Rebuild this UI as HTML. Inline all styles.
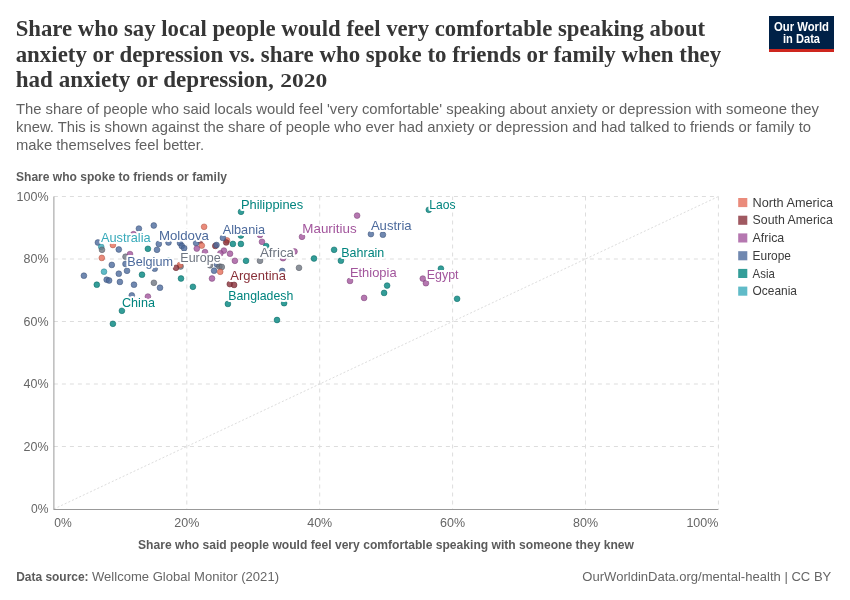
<!DOCTYPE html>
<html lang="en"><head><meta charset="utf-8"><title>Share who say local people would feel very comfortable speaking about anxiety or depression</title>
<style>
html,body{margin:0;padding:0;background:#fff;}
body{width:850px;height:600px;overflow:hidden;}
svg{display:block;font-family:"Liberation Sans",sans-serif;}
.title{font-family:"Liberation Serif",serif;font-weight:bold;font-size:24px;fill:#363636;}
.sub{font-size:15px;fill:#616161;}
.tick{font-size:12.4px;fill:#666;}
.axl{font-size:13px;font-weight:bold;fill:#5b5b5b;}
.leg{font-size:12.2px;fill:#3b3b3b;}
.foot{font-size:12.9px;fill:#666;}
.lab{font-size:13.5px;paint-order:stroke;stroke:#fff;stroke-width:4px;stroke-linejoin:round;}
.grid{stroke:#ddd;stroke-dasharray:4,4;stroke-width:1;fill:none;}
</style></head><body>
<svg width="850" height="600" viewBox="0 0 850 600">
<rect width="850" height="600" fill="#fff"/>
<text class="title" x="15.7" y="36.2" textLength="689.5" lengthAdjust="spacingAndGlyphs">Share who say local people would feel very comfortable speaking about</text>
<text class="title" x="15.7" y="61.7" textLength="705.5" lengthAdjust="spacingAndGlyphs">anxiety or depression vs. share who spoke to friends or family when they</text>
<text class="title" x="15.7" y="87.3"><tspan textLength="258" lengthAdjust="spacingAndGlyphs">had anxiety or depression,</tspan><tspan x="280.2" font-size="18.5" textLength="47" lengthAdjust="spacingAndGlyphs">2020</tspan></text>
<text class="sub" x="16" y="114" textLength="803" lengthAdjust="spacingAndGlyphs">The share of people who said locals would feel 'very comfortable' speaking about anxiety or depression with someone they</text>
<text class="sub" x="16" y="131.9" textLength="795" lengthAdjust="spacingAndGlyphs">knew. This is shown against the share of people who ever had anxiety or depression and had talked to friends or family to</text>
<text class="sub" x="16" y="149.7" textLength="188" lengthAdjust="spacingAndGlyphs">make themselves feel better.</text>
<g><rect x="769" y="16" width="65" height="36" fill="#002147"/><rect x="769" y="49" width="65" height="3" fill="#ce261e"/><text x="801.5" y="30.6" text-anchor="middle" font-size="12.8" font-weight="bold" fill="#fff" textLength="55" lengthAdjust="spacingAndGlyphs">Our World</text><text x="801.5" y="42.6" text-anchor="middle" font-size="12.8" font-weight="bold" fill="#fff" textLength="37" lengthAdjust="spacingAndGlyphs">in Data</text></g>
<text class="axl" x="16" y="180.7" textLength="211" lengthAdjust="spacingAndGlyphs">Share who spoke to friends or family</text>
<line class="grid" x1="186.8" y1="196.5" x2="186.8" y2="509.0"/>
<line class="grid" x1="319.7" y1="196.5" x2="319.7" y2="509.0"/>
<line class="grid" x1="452.6" y1="196.5" x2="452.6" y2="509.0"/>
<line class="grid" x1="585.5" y1="196.5" x2="585.5" y2="509.0"/>
<line class="grid" x1="718.4" y1="196.5" x2="718.4" y2="509.0"/>
<line class="grid" x1="53.9" y1="196.5" x2="718.4" y2="196.5"/>
<line class="grid" x1="53.9" y1="259.0" x2="718.4" y2="259.0"/>
<line class="grid" x1="53.9" y1="321.5" x2="718.4" y2="321.5"/>
<line class="grid" x1="53.9" y1="384.0" x2="718.4" y2="384.0"/>
<line class="grid" x1="53.9" y1="446.5" x2="718.4" y2="446.5"/>
<line x1="53.9" y1="509.0" x2="718.4" y2="196.5" stroke="#ddd" stroke-width="1" stroke-dasharray="2,2"/>
<line x1="53.9" y1="196.5" x2="53.9" y2="509.0" stroke="#999" stroke-width="1"/>
<line x1="53.4" y1="509.5" x2="718.4" y2="509.5" stroke="#999" stroke-width="1"/>
<text class="tick" x="16.6" y="200.9" textLength="32" lengthAdjust="spacingAndGlyphs">100%</text>
<text class="tick" x="23.6" y="263.4" textLength="25" lengthAdjust="spacingAndGlyphs">80%</text>
<text class="tick" x="23.6" y="325.9" textLength="25" lengthAdjust="spacingAndGlyphs">60%</text>
<text class="tick" x="23.6" y="388.4" textLength="25" lengthAdjust="spacingAndGlyphs">40%</text>
<text class="tick" x="23.6" y="450.9" textLength="25" lengthAdjust="spacingAndGlyphs">20%</text>
<text class="tick" x="31.1" y="513.4" textLength="17.5" lengthAdjust="spacingAndGlyphs">0%</text>
<text class="tick" x="54.2" y="527.4" textLength="17.5" lengthAdjust="spacingAndGlyphs">0%</text>
<text class="tick" x="174.3" y="527.4" textLength="25" lengthAdjust="spacingAndGlyphs">20%</text>
<text class="tick" x="307.2" y="527.4" textLength="25" lengthAdjust="spacingAndGlyphs">40%</text>
<text class="tick" x="440.1" y="527.4" textLength="25" lengthAdjust="spacingAndGlyphs">60%</text>
<text class="tick" x="573.0" y="527.4" textLength="25" lengthAdjust="spacingAndGlyphs">80%</text>
<text class="tick" x="686.4" y="527.4" textLength="32" lengthAdjust="spacingAndGlyphs">100%</text>
<text class="axl" x="386" y="548.5" text-anchor="middle" textLength="496" lengthAdjust="spacingAndGlyphs">Share who said people would feel very comfortable speaking with someone they knew</text>
<g stroke-width="0.5" fill-opacity="0.8">
<circle cx="153.8" cy="225.5" r="2.9" fill="#4C6A9C" stroke="#394f75"/>
<circle cx="138.9" cy="228.6" r="2.9" fill="#4C6A9C" stroke="#394f75"/>
<circle cx="133.5" cy="234.2" r="2.9" fill="#A2559C" stroke="#793f75"/>
<circle cx="97.9" cy="242.5" r="2.9" fill="#4C6A9C" stroke="#394f75"/>
<circle cx="101.2" cy="246.8" r="2.9" fill="#38AABA" stroke="#2a7f8b"/>
<circle cx="102" cy="249.8" r="2.9" fill="#6e7581" stroke="#525760"/>
<circle cx="112.9" cy="245" r="2.9" fill="#E56E5A" stroke="#ab5243"/>
<circle cx="118.8" cy="249.5" r="2.9" fill="#4C6A9C" stroke="#394f75"/>
<circle cx="101.8" cy="257.9" r="2.9" fill="#E56E5A" stroke="#ab5243"/>
<circle cx="125.5" cy="256.7" r="2.9" fill="#6e7581" stroke="#525760"/>
<circle cx="130" cy="254.1" r="2.9" fill="#A2559C" stroke="#793f75"/>
<circle cx="147.9" cy="248.8" r="2.9" fill="#00847E" stroke="#00635e"/>
<circle cx="158.8" cy="243.9" r="2.9" fill="#4C6A9C" stroke="#394f75"/>
<circle cx="157" cy="249.8" r="2.9" fill="#4C6A9C" stroke="#394f75"/>
<circle cx="168.5" cy="242.5" r="2.9" fill="#4C6A9C" stroke="#394f75"/>
<circle cx="111.8" cy="264.9" r="2.9" fill="#4C6A9C" stroke="#394f75"/>
<circle cx="125.5" cy="263.9" r="2.9" fill="#4C6A9C" stroke="#394f75"/>
<circle cx="104" cy="271.7" r="2.9" fill="#38AABA" stroke="#2a7f8b"/>
<circle cx="83.9" cy="275.7" r="2.9" fill="#4C6A9C" stroke="#394f75"/>
<circle cx="118.8" cy="273.7" r="2.9" fill="#4C6A9C" stroke="#394f75"/>
<circle cx="127" cy="270.8" r="2.9" fill="#4C6A9C" stroke="#394f75"/>
<circle cx="142" cy="274.7" r="2.9" fill="#00847E" stroke="#00635e"/>
<circle cx="154.7" cy="268.7" r="2.9" fill="#4C6A9C" stroke="#394f75"/>
<circle cx="169" cy="260.3" r="2.9" fill="#00847E" stroke="#00635e"/>
<circle cx="241" cy="211.8" r="2.9" fill="#00847E" stroke="#00635e"/>
<circle cx="204.1" cy="226.8" r="2.9" fill="#E56E5A" stroke="#ab5243"/>
<circle cx="180" cy="243" r="2.9" fill="#4C6A9C" stroke="#394f75"/>
<circle cx="181.8" cy="245.9" r="2.9" fill="#4C6A9C" stroke="#394f75"/>
<circle cx="184.1" cy="248.2" r="2.9" fill="#4C6A9C" stroke="#394f75"/>
<circle cx="200.3" cy="240.6" r="2.9" fill="#883039" stroke="#66242a"/>
<circle cx="201.8" cy="245.6" r="2.9" fill="#E56E5A" stroke="#ab5243"/>
<circle cx="196.1" cy="243" r="2.9" fill="#4C6A9C" stroke="#394f75"/>
<circle cx="196.8" cy="248.6" r="2.9" fill="#A2559C" stroke="#793f75"/>
<circle cx="205" cy="252.1" r="2.9" fill="#A2559C" stroke="#793f75"/>
<circle cx="227" cy="240.4" r="2.9" fill="#E56E5A" stroke="#ab5243"/>
<circle cx="226.2" cy="242.4" r="2.9" fill="#883039" stroke="#66242a"/>
<circle cx="222.9" cy="237.9" r="2.9" fill="#4C6A9C" stroke="#394f75"/>
<circle cx="215.3" cy="245.9" r="2.9" fill="#883039" stroke="#66242a"/>
<circle cx="216.5" cy="245" r="2.9" fill="#4C6A9C" stroke="#394f75"/>
<circle cx="232.9" cy="243.9" r="2.9" fill="#00847E" stroke="#00635e"/>
<circle cx="240.9" cy="243.9" r="2.9" fill="#00847E" stroke="#00635e"/>
<circle cx="240.9" cy="235.6" r="2.9" fill="#00847E" stroke="#00635e"/>
<circle cx="223.9" cy="250.6" r="2.9" fill="#A2559C" stroke="#793f75"/>
<circle cx="220.4" cy="253.3" r="2.9" fill="#A2559C" stroke="#793f75"/>
<circle cx="230" cy="253.7" r="2.9" fill="#A2559C" stroke="#793f75"/>
<circle cx="234.9" cy="260.8" r="2.9" fill="#A2559C" stroke="#793f75"/>
<circle cx="246" cy="260.8" r="2.9" fill="#00847E" stroke="#00635e"/>
<circle cx="180.6" cy="266.5" r="2.9" fill="#6e7581" stroke="#525760"/>
<circle cx="180" cy="265" r="2.9" fill="#E56E5A" stroke="#ab5243"/>
<circle cx="176" cy="267.8" r="2.9" fill="#883039" stroke="#66242a"/>
<circle cx="210" cy="265.3" r="2.9" fill="#6e7581" stroke="#525760"/>
<circle cx="217" cy="264.4" r="2.9" fill="#4C6A9C" stroke="#394f75"/>
<circle cx="219.4" cy="266.5" r="2.9" fill="#6e7581" stroke="#525760"/>
<circle cx="221.8" cy="267" r="2.9" fill="#6e7581" stroke="#525760"/>
<circle cx="214.1" cy="270.7" r="2.9" fill="#4C6A9C" stroke="#394f75"/>
<circle cx="220.2" cy="271.8" r="2.9" fill="#E56E5A" stroke="#ab5243"/>
<circle cx="181" cy="278.5" r="2.9" fill="#00847E" stroke="#00635e"/>
<circle cx="212" cy="278.5" r="2.9" fill="#A2559C" stroke="#793f75"/>
<circle cx="260" cy="234.9" r="2.9" fill="#A2559C" stroke="#793f75"/>
<circle cx="262" cy="241.8" r="2.9" fill="#A2559C" stroke="#793f75"/>
<circle cx="266.2" cy="246.1" r="2.9" fill="#00847E" stroke="#00635e"/>
<circle cx="302" cy="236.8" r="2.9" fill="#A2559C" stroke="#793f75"/>
<circle cx="294.5" cy="251.5" r="2.9" fill="#A2559C" stroke="#793f75"/>
<circle cx="283" cy="258.2" r="2.9" fill="#A2559C" stroke="#793f75"/>
<circle cx="260" cy="260.8" r="2.9" fill="#6e7581" stroke="#525760"/>
<circle cx="314" cy="258.5" r="2.9" fill="#00847E" stroke="#00635e"/>
<circle cx="299" cy="267.8" r="2.9" fill="#6e7581" stroke="#525760"/>
<circle cx="282.2" cy="271" r="2.9" fill="#4C6A9C" stroke="#394f75"/>
<circle cx="153.9" cy="282.8" r="2.9" fill="#6e7581" stroke="#525760"/>
<circle cx="160" cy="287.7" r="2.9" fill="#4C6A9C" stroke="#394f75"/>
<circle cx="147.9" cy="296.6" r="2.9" fill="#A2559C" stroke="#793f75"/>
<circle cx="192.9" cy="286.8" r="2.9" fill="#00847E" stroke="#00635e"/>
<circle cx="229.8" cy="284.1" r="2.9" fill="#883039" stroke="#66242a"/>
<circle cx="234.1" cy="284.9" r="2.9" fill="#883039" stroke="#66242a"/>
<circle cx="227.9" cy="303.9" r="2.9" fill="#00847E" stroke="#00635e"/>
<circle cx="284.1" cy="303.2" r="2.9" fill="#00847E" stroke="#00635e"/>
<circle cx="277" cy="320" r="2.9" fill="#00847E" stroke="#00635e"/>
<circle cx="357.1" cy="215.6" r="2.9" fill="#A2559C" stroke="#793f75"/>
<circle cx="370.9" cy="234.1" r="2.9" fill="#4C6A9C" stroke="#394f75"/>
<circle cx="382.9" cy="234.7" r="2.9" fill="#4C6A9C" stroke="#394f75"/>
<circle cx="334.1" cy="249.8" r="2.9" fill="#00847E" stroke="#00635e"/>
<circle cx="340.9" cy="260.7" r="2.9" fill="#00847E" stroke="#00635e"/>
<circle cx="350" cy="280.9" r="2.9" fill="#A2559C" stroke="#793f75"/>
<circle cx="387.1" cy="285.6" r="2.9" fill="#00847E" stroke="#00635e"/>
<circle cx="384.1" cy="292.9" r="2.9" fill="#00847E" stroke="#00635e"/>
<circle cx="364.1" cy="297.9" r="2.9" fill="#A2559C" stroke="#793f75"/>
<circle cx="422.8" cy="278.6" r="2.9" fill="#A2559C" stroke="#793f75"/>
<circle cx="425.9" cy="283.2" r="2.9" fill="#A2559C" stroke="#793f75"/>
<circle cx="428.8" cy="209.8" r="2.9" fill="#00847E" stroke="#00635e"/>
<circle cx="440.9" cy="268.6" r="2.9" fill="#00847E" stroke="#00635e"/>
<circle cx="457.1" cy="298.8" r="2.9" fill="#00847E" stroke="#00635e"/>
<circle cx="106.7" cy="279.7" r="2.9" fill="#4C6A9C" stroke="#394f75"/>
<circle cx="109.1" cy="280.5" r="2.9" fill="#4C6A9C" stroke="#394f75"/>
<circle cx="96.8" cy="284.7" r="2.9" fill="#00847E" stroke="#00635e"/>
<circle cx="119.9" cy="281.9" r="2.9" fill="#4C6A9C" stroke="#394f75"/>
<circle cx="134" cy="284.7" r="2.9" fill="#4C6A9C" stroke="#394f75"/>
<circle cx="131.8" cy="295.4" r="2.9" fill="#4C6A9C" stroke="#394f75"/>
<circle cx="121.9" cy="310.8" r="2.9" fill="#00847E" stroke="#00635e"/>
<circle cx="112.9" cy="323.8" r="2.9" fill="#00847E" stroke="#00635e"/>
</g>
<g>
<text class="lab" x="240.9" y="209.4" fill="#00847E" textLength="62.3" lengthAdjust="spacingAndGlyphs">Philippines</text>
<text class="lab" x="429.3" y="209.4" fill="#00847E" textLength="26.3" lengthAdjust="spacingAndGlyphs">Laos</text>
<text class="lab" x="100.9" y="242.4" fill="#38AABA" textLength="49.7" lengthAdjust="spacingAndGlyphs">Australia</text>
<text class="lab" x="158.9" y="239.8" fill="#4C6A9C" textLength="50.1" lengthAdjust="spacingAndGlyphs">Moldova</text>
<text class="lab" x="222.7" y="233.8" fill="#4C6A9C" textLength="42.5" lengthAdjust="spacingAndGlyphs">Albania</text>
<text class="lab" x="302.3" y="233.0" fill="#A2559C" textLength="54.3" lengthAdjust="spacingAndGlyphs">Mauritius</text>
<text class="lab" x="370.9" y="230.0" fill="#4C6A9C" textLength="40.7" lengthAdjust="spacingAndGlyphs">Austria</text>
<text class="lab" x="127.3" y="266.0" fill="#4C6A9C" textLength="45.7" lengthAdjust="spacingAndGlyphs">Belgium</text>
<text class="lab" x="180.3" y="261.9" fill="#6e7581" textLength="40.3" lengthAdjust="spacingAndGlyphs">Europe</text>
<text class="lab" x="259.9" y="256.8" fill="#6e7581" textLength="34.1" lengthAdjust="spacingAndGlyphs">Africa</text>
<text class="lab" x="341.3" y="256.8" fill="#00847E" textLength="43.0" lengthAdjust="spacingAndGlyphs">Bahrain</text>
<text class="lab" x="230.3" y="279.8" fill="#883039" textLength="55.7" lengthAdjust="spacingAndGlyphs">Argentina</text>
<text class="lab" x="349.9" y="276.8" fill="#A2559C" textLength="46.7" lengthAdjust="spacingAndGlyphs">Ethiopia</text>
<text class="lab" x="426.7" y="279.4" fill="#A2559C" textLength="31.9" lengthAdjust="spacingAndGlyphs">Egypt</text>
<text class="lab" x="228.3" y="300.2" fill="#00847E" textLength="65.0" lengthAdjust="spacingAndGlyphs">Bangladesh</text>
<text class="lab" x="122.0" y="306.8" fill="#00847E" textLength="32.9" lengthAdjust="spacingAndGlyphs">China</text>
</g>
<rect x="738.2" y="198.0" width="9.1" height="9.1" fill="#E56E5A" fill-opacity="0.8"/><text class="leg" x="752.6" y="206.7" textLength="80.5" lengthAdjust="spacingAndGlyphs">North America</text>
<rect x="738.2" y="215.7" width="9.1" height="9.1" fill="#883039" fill-opacity="0.8"/><text class="leg" x="752.6" y="224.4" textLength="80.2" lengthAdjust="spacingAndGlyphs">South America</text>
<rect x="738.2" y="233.4" width="9.1" height="9.1" fill="#A2559C" fill-opacity="0.8"/><text class="leg" x="752.6" y="242.1" textLength="31.6" lengthAdjust="spacingAndGlyphs">Africa</text>
<rect x="738.2" y="251.2" width="9.1" height="9.1" fill="#4C6A9C" fill-opacity="0.8"/><text class="leg" x="752.6" y="259.9" textLength="38.4" lengthAdjust="spacingAndGlyphs">Europe</text>
<rect x="738.2" y="268.9" width="9.1" height="9.1" fill="#00847E" fill-opacity="0.8"/><text class="leg" x="752.6" y="277.6" textLength="22.2" lengthAdjust="spacingAndGlyphs">Asia</text>
<rect x="738.2" y="286.6" width="9.1" height="9.1" fill="#38AABA" fill-opacity="0.8"/><text class="leg" x="752.6" y="295.3" textLength="44.4" lengthAdjust="spacingAndGlyphs">Oceania</text>
<text class="foot" x="16.2" y="580.5" style="font-weight:bold;fill:#5b5b5b" textLength="72.4" lengthAdjust="spacingAndGlyphs">Data source:</text>
<text class="foot" x="92" y="580.5" textLength="187" lengthAdjust="spacingAndGlyphs">Wellcome Global Monitor (2021)</text>
<text class="foot" x="582.3" y="580.5" textLength="249" lengthAdjust="spacingAndGlyphs">OurWorldinData.org/mental-health | CC BY</text>
</svg>
</body></html>
